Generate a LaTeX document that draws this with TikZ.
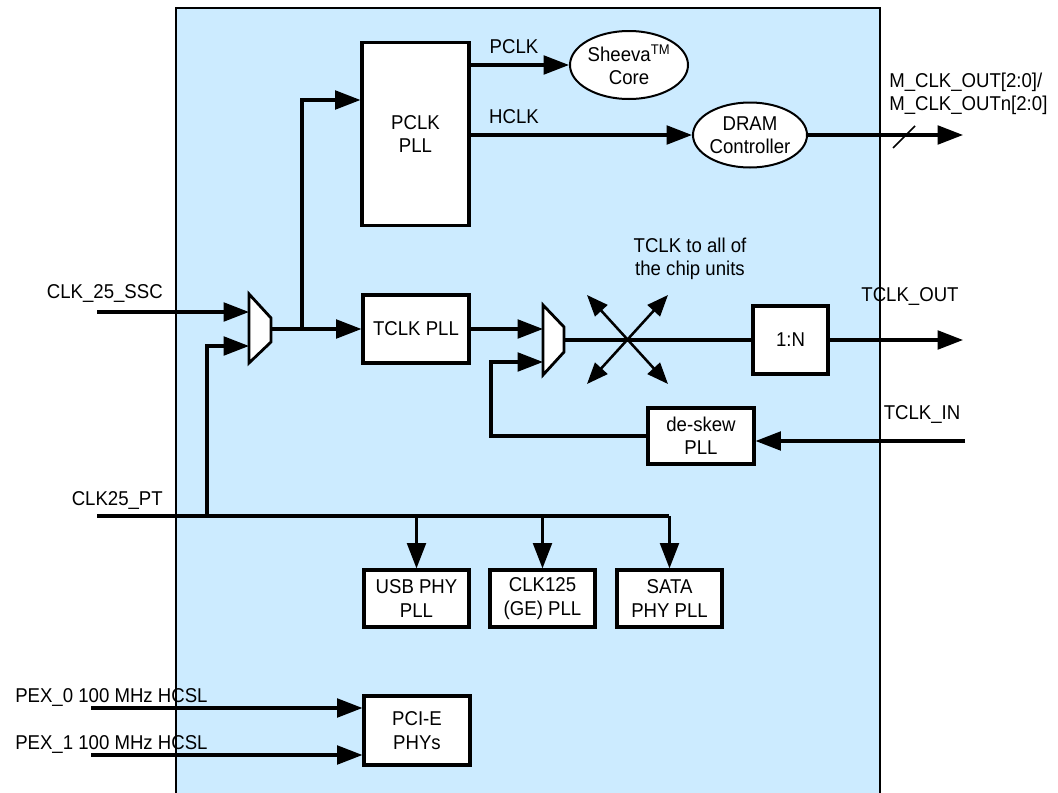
\documentclass[tikz,border=0pt]{standalone}
\usepackage{fontspec}
\setmainfont{Liberation Sans}[FakeStretch=0.93]
\usetikzlibrary{arrows.meta,shapes.geometric}
\definecolor{chipblue}{RGB}{204,235,255}
\begin{document}
\begin{tikzpicture}[x=0.75pt,y=-0.75pt,
  font=\fontsize{15}{17.5}\selectfont,
  box/.style={draw, line width=2.3pt, fill=white, align=center, inner sep=0pt},
  oval/.style={ellipse, draw, line width=1.5pt, fill=white, align=center, inner sep=0pt},
  wire/.style={line width=2.3pt},
  arr/.style={wire, -{Triangle[length=19pt,width=14pt]}},
  darr/.style={line width=1.9pt, {Triangle[length=16pt,width=12.5pt]}-{Triangle[length=16pt,width=12.5pt]}},
  muxs/.style={line width=2.1pt, fill=white, line join=miter},
  lbl/.style={inner sep=0pt, align=left}]
\useasboundingbox (0,0) rectangle (1058,793);
\fill[white] (0,0) rectangle (1058,793);
% chip
\fill[chipblue] (176,8) rectangle (880,793);
\draw[line width=1.3pt] (176,800) -- (176,8) -- (880,8) -- (880,800);

% coordinates
\coordinate (m1in1) at (249,312);
\coordinate (m1in2) at (249,346);
\coordinate (m1out) at (271,329);
\coordinate (m2in1) at (543,329);
\coordinate (m2in2) at (543,362);
\coordinate (m2out) at (564,340);
\coordinate (sscin) at (97,312);
\coordinate (ptin) at (97,516);
\coordinate (busend) at (669,516);
\coordinate (j2) at (207,516);
\coordinate (j1) at (302,329);
\coordinate (pclkin) at (302,100);
\coordinate (pex0in) at (91,708);
\coordinate (pex1in) at (91,755);
\coordinate (mclkout) at (963,135);
\coordinate (toutend) at (963,340);
\coordinate (tinstart) at (965,441);
\coordinate (fbx) at (491,0);
\coordinate (xul) at (587,295);
\coordinate (xur) at (668,295);
\coordinate (xll) at (587,384);
\coordinate (xlr) at (668,384);
\coordinate (s1) at (893,148);
\coordinate (s2) at (915,126);

% nodes
\node[box, minimum width=80.25pt, minimum height=137.25pt] (pclkpll) at (415.5,134) {PCLK\\PLL};
\node[box, minimum width=79.5pt, minimum height=51pt] (tclkpll) at (416,329) {TCLK PLL};
\node[box, minimum width=56.25pt, minimum height=51pt] (div) at (790.5,340) {1:N};
\node[box, minimum width=79.5pt, minimum height=42pt] (deskew) at (701,436) {de-skew\\PLL};
\node[box, minimum width=78.75pt, minimum height=42.75pt] (usb) at (416.5,598.5) {USB PHY\\PLL};
\node[box, minimum width=78.75pt, minimum height=42.75pt] (ge) at (542.5,598.5) {CLK125\\(GE) PLL};
\node[box, minimum width=78.75pt, minimum height=42.75pt] (sata) at (669.5,598.5) {SATA\\PHY PLL};
\node[box, minimum width=79.5pt, minimum height=51.75pt] (pcie) at (417,730.5) {PCI-E\\PHYs};
\node[oval, minimum width=88.5pt, minimum height=51pt] (sheeva) at (629,65) {Sheeva\textsuperscript{TM}\\Core};
\node[oval, minimum width=79.5pt, minimum height=48.75pt] (dram) at (750,135) {DRAM\\Controller};

% wires
\draw[arr] (sscin) -- (m1in1);
\draw[wire] (ptin) -- (busend);
\draw[arr] (j2) |- (m1in2);
\draw[arr] (m1out) -- (tclkpll.west);
\draw[arr] (j1) |- (pclkpll.west |- pclkin);
\draw[arr] (pclkpll.east |- sheeva.west) -- (sheeva.west);
\draw[arr] (pclkpll.east |- dram.west) -- (dram.west);
\draw[arr] (dram.east) -- (mclkout);
\draw[line width=1.1pt] (s1) -- (s2);
\draw[arr] (tclkpll.east) -- (m2in1);
\draw[wire] (m2out) -- (div.west);
\draw[arr] (div.east) -- (toutend);
\draw[arr] (tinstart) -- (deskew.east |- tinstart);
\draw[arr] (deskew.west) -- (fbx |- deskew.west) |- (m2in2);
\draw[darr] (xul) -- (xlr);
\draw[darr] (xur) -- (xll);
\draw[arr] (usb.north |- busend) -- (usb.north);
\draw[arr] (ge.north |- busend) -- (ge.north);
\draw[arr] (sata.north |- busend) -- (sata.north);
\draw[arr] (pex0in) -- (pcie.west |- pex0in);
\draw[arr] (pex1in) -- (pcie.west |- pex1in);

% muxes
\draw[muxs] (249,294) -- (271,318) -- (271,342) -- (249,363) -- cycle;
\draw[muxs] (543,305) -- (564,327) -- (564,352) -- (543,375) -- cycle;

% labels
\node[lbl, anchor=east] (sscl) at (163,294) {CLK\_25\_SSC};
\node[lbl, anchor=east] (ptl) at (163,500) {CLK25\_PT};
\node[lbl, anchor=west] (pex0l) at (15,697) {PEX\_0 100 MHz HCSL};
\node[lbl, anchor=west] (pex1l) at (15,744) {PEX\_1 100 MHz HCSL};
\node[lbl] (pclkl) at (514,47) {PCLK};
\node[lbl] (hclkl) at (514,117) {HCLK};
\node[lbl, anchor=west] (mclkl) at (889,94) {M\_CLK\_OUT[2:0]/\\M\_CLK\_OUTn[2:0]};
\node[lbl] (toutl) at (910,297) {TCLK\_OUT};
\node[lbl] (tinl) at (922,414) {TCLK\_IN};
\node[lbl, align=center] (tall) at (690,259) {TCLK to all of\\the chip units};
\end{tikzpicture}
\end{document}
